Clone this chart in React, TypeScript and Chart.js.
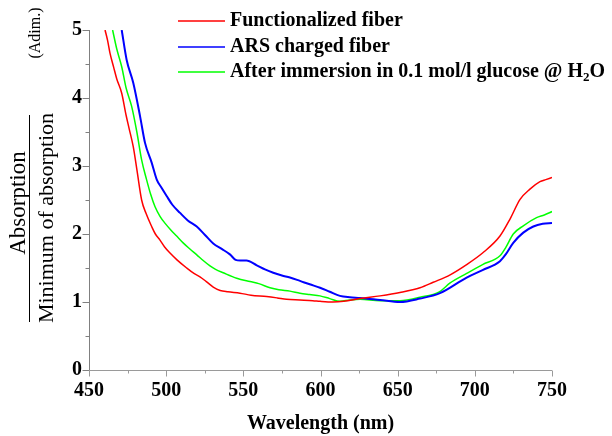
import React, { useEffect, useRef } from 'react';
import { Chart, registerables } from 'chart.js';

Chart.register(...registerables);

const FONT = '"Liberation Serif", "Times New Roman", serif';

// Functionalized fiber (red)
const redWavelength = [460.4, 462, 463.6, 466, 468, 471.2, 474, 476, 478.7, 481, 484.1, 487, 490.6, 493, 496, 499, 502.5, 507, 513.3, 518, 521.9, 526, 530.5, 535, 540, 547.8, 555, 565.1, 572, 578, 586.7, 595, 599.7, 608, 615, 625.6, 638.6, 651.5, 664.5, 673, 684, 694.7, 705, 716.3, 722.8, 729.3, 735.7, 742.2, 746, 750];
const redValues = [5.0, 4.85, 4.66, 4.45, 4.28, 4.07, 3.75, 3.55, 3.28, 2.95, 2.5, 2.3, 2.11, 2.0, 1.91, 1.81, 1.72, 1.62, 1.5, 1.42, 1.37, 1.3, 1.22, 1.17, 1.15, 1.13, 1.1, 1.08, 1.06, 1.04, 1.03, 1.02, 1.01, 1.0, 1.01, 1.05, 1.09, 1.14, 1.21, 1.29, 1.4, 1.55, 1.72, 1.97, 2.22, 2.51, 2.66, 2.77, 2.8, 2.83];

// ARS charged fiber (blue)
const blueWavelength = [471.2, 474.4, 478.7, 483.1, 486.3, 490.6, 493.9, 497, 500.3, 504, 509, 514, 519.8, 525, 530.5, 536, 541.3, 545, 548, 552, 558.7, 564, 569.4, 575, 580.2, 586.7, 593, 599.7, 606, 612.6, 619, 625.6, 638.6, 651.5, 664.5, 677.4, 694.7, 705, 716.3, 720, 724.9, 731.4, 737.9, 744, 750];
const blueValues = [5.0, 4.56, 4.22, 3.73, 3.34, 3.05, 2.8, 2.68, 2.56, 2.43, 2.31, 2.2, 2.11, 1.99, 1.86, 1.78, 1.7, 1.62, 1.61, 1.61, 1.54, 1.48, 1.43, 1.39, 1.36, 1.31, 1.26, 1.21, 1.15, 1.09, 1.07, 1.06, 1.03, 1.0, 1.05, 1.13, 1.36, 1.47, 1.6, 1.7, 1.87, 2.02, 2.11, 2.15, 2.16];

// After immersion in glucose (green)
const greenWavelength = [465.3, 468, 471.2, 474, 477.6, 481, 484.1, 487.3, 490, 492.8, 496, 499.2, 503, 506.8, 511, 515.4, 520, 524, 528.4, 532, 537, 545.7, 554.3, 560, 567.3, 573, 580.2, 586.7, 593, 599.7, 606, 612.6, 619, 625.6, 638.6, 651.5, 664.5, 677, 684, 694.7, 705, 716.3, 720, 724.9, 731.4, 740, 745, 750];
const greenValues = [5.0, 4.72, 4.46, 4.15, 3.88, 3.5, 3.09, 2.8, 2.58, 2.4, 2.26, 2.16, 2.06, 1.97, 1.87, 1.78, 1.69, 1.61, 1.53, 1.48, 1.43, 1.35, 1.3, 1.27, 1.21, 1.18, 1.16, 1.13, 1.11, 1.09, 1.05, 1.01, 1.03, 1.04, 1.02, 1.02, 1.07, 1.15, 1.28, 1.42, 1.55, 1.68, 1.8, 2.0, 2.12, 2.24, 2.28, 2.33];

const seriesLabels = ['Functionalized fiber', 'ARS charged fiber', 'After immersion in 0.1 mol/l glucose @ H\u2082O'];
const seriesColors = ['#ff0000', '#0000ff', '#00ff00'];
const seriesWidths = [1.5, 2, 1.5];

const xMajorTicks = [450, 500, 550, 600, 650, 700, 750];
const xMinorTicks = [475, 525, 575, 625, 675, 725];
const yMajorTicks = [0, 1, 2, 3, 4, 5];
const yMinorTicks = [0.5, 1.5, 2.5, 3.5, 4.5];

const xTitle = 'Wavelength (nm)';
const yTitleNumerator = 'Absorption';
const yTitleDenominator = 'Minimum of absorption';
const yTitleUnit = '(Adim.)';

const toPoints = (xs: number[], ys: number[]) => xs.map((x, i) => ({ x, y: ys[i] }));

const decorPlugin = {
  id: 'decor',
  afterDraw(chart: any) {
    const { ctx, chartArea: a, scales } = chart;
    const x = scales.x;
    const y = scales.y;
    ctx.save();
    const ax = Math.round(a.left) + 0.5;
    const ay = Math.round(a.bottom) + 0.5;
    ctx.lineWidth = 1;

    // y axis line and ticks
    ctx.strokeStyle = '#808080';
    ctx.beginPath();
    ctx.moveTo(ax, a.top);
    ctx.lineTo(ax, ay);
    yMajorTicks.forEach((v) => {
      const p = Math.round(y.getPixelForValue(v)) + 0.5;
      ctx.moveTo(ax - 7, p);
      ctx.lineTo(ax, p);
    });
    yMinorTicks.forEach((v) => {
      const p = Math.round(y.getPixelForValue(v)) + 0.5;
      ctx.moveTo(ax - 4, p);
      ctx.lineTo(ax, p);
    });
    ctx.stroke();

    // x axis line and ticks
    ctx.strokeStyle = '#9a9a9a';
    ctx.beginPath();
    ctx.moveTo(ax, ay);
    ctx.lineTo(a.right, ay);
    xMajorTicks.forEach((v) => {
      const p = Math.round(x.getPixelForValue(v)) + 0.5;
      ctx.moveTo(p, ay);
      ctx.lineTo(p, ay + 6);
    });
    xMinorTicks.forEach((v) => {
      const p = Math.round(x.getPixelForValue(v)) + 0.5;
      ctx.moveTo(p, ay);
      ctx.lineTo(p, ay + 3);
    });
    ctx.stroke();

    // legend
    const rows = [21, 47, 72];
    chart.data.datasets.forEach((ds: any, i: number) => {
      const ry = rows[i];
      ctx.strokeStyle = ds.borderColor;
      ctx.lineWidth = 1.5;
      ctx.beginPath();
      ctx.moveTo(178, ry);
      ctx.lineTo(225, ry);
      ctx.stroke();
      ctx.fillStyle = '#000';
      ctx.textBaseline = 'middle';
      ctx.textAlign = 'left';
      const label: string = ds.label;
      const parts = label.split('\u2082');
      let tx = 230;
      const ty = ry;
      ctx.font = 'bold 20px ' + FONT;
      ctx.fillText(parts[0], tx, ty);
      tx += ctx.measureText(parts[0]).width;
      if (parts.length > 1) {
        ctx.font = 'bold 13px ' + FONT;
        ctx.fillText('2', tx, ty + 6);
        tx += ctx.measureText('2').width;
        ctx.font = 'bold 20px ' + FONT;
        ctx.fillText(parts[1], tx, ty);
      }
    });

    // y axis title (rotated fraction)
    ctx.fillStyle = '#000';
    ctx.strokeStyle = '#000';
    ctx.save();
    ctx.translate(25, 203);
    ctx.rotate(-Math.PI / 2);
    ctx.font = '23px ' + FONT;
    ctx.textAlign = 'center';
    ctx.textBaseline = 'alphabetic';
    ctx.fillText(yTitleNumerator, 0, 0);
    ctx.restore();

    ctx.save();
    ctx.translate(53, 218);
    ctx.rotate(-Math.PI / 2);
    ctx.font = '22px ' + FONT;
    ctx.textAlign = 'center';
    ctx.textBaseline = 'alphabetic';
    ctx.fillText(yTitleDenominator, 0, 0);
    ctx.restore();

    ctx.lineWidth = 1;
    ctx.beginPath();
    ctx.moveTo(29.5, 115);
    ctx.lineTo(29.5, 322);
    ctx.stroke();

    ctx.save();
    ctx.translate(40, 33);
    ctx.rotate(-Math.PI / 2);
    ctx.font = '16px ' + FONT;
    ctx.textAlign = 'center';
    ctx.textBaseline = 'alphabetic';
    ctx.fillText(yTitleUnit, 0, 0);
    ctx.restore();

    ctx.restore();
  },
};

export default function App() {
  const canvasRef = useRef<HTMLCanvasElement | null>(null);

  useEffect(() => {
    if (!canvasRef.current) return;
    const series = [
      toPoints(redWavelength, redValues),
      toPoints(blueWavelength, blueValues),
      toPoints(greenWavelength, greenValues),
    ];
    const chart = new Chart(canvasRef.current, {
      type: 'line',
      data: {
        datasets: series.map((data, i) => ({
          label: seriesLabels[i],
          data,
          borderColor: seriesColors[i],
          backgroundColor: seriesColors[i],
          borderWidth: seriesWidths[i],
          pointRadius: 0,
          cubicInterpolationMode: 'monotone',
          fill: false,
        })),
      },
      options: {
        responsive: false,
        animation: false,
        layout: { padding: { left: 0, right: 60, top: 30, bottom: 0 } },
        plugins: {
          legend: { display: false },
          tooltip: { enabled: false },
        },
        scales: {
          x: {
            type: 'linear',
            min: 450,
            max: 750,
            grid: { display: false, drawTicks: false },
            border: { display: false },
            afterBuildTicks: (scale: any) => {
              scale.ticks = xMajorTicks.map((v) => ({ value: v }));
            },
            afterFit: (scale: any) => {
              scale.height = 66;
            },
            ticks: {
              padding: 9,
              maxRotation: 0,
              autoSkip: false,
              color: '#000',
              font: { family: FONT, size: 20, weight: 'bold' },
              callback: (v: any) => String(v),
            },
            title: {
              display: true,
              text: xTitle,
              color: '#000',
              font: { family: FONT, size: 20, weight: 'bold' },
              padding: { top: 0, bottom: 0 },
            },
          },
          y: {
            type: 'linear',
            min: 0,
            max: 5,
            grid: { display: false, drawTicks: false },
            border: { display: false },
            afterBuildTicks: (scale: any) => {
              scale.ticks = yMajorTicks.map((v) => ({ value: v }));
            },
            afterFit: (scale: any) => {
              scale.width = 89;
            },
            ticks: {
              padding: 7,
              autoSkip: false,
              color: '#000',
              font: { family: FONT, size: 20, weight: 'bold' },
              callback: (v: any) => String(v),
            },
          },
        },
      },
      plugins: [decorPlugin],
    } as any);
    return () => chart.destroy();
  }, []);

  return (
    <div style={{ position: 'absolute', left: 0, top: 0, width: 612, height: 436, background: '#fff' }}>
      <canvas ref={canvasRef} width={612} height={436} style={{ display: 'block' }} />
    </div>
  );
}
